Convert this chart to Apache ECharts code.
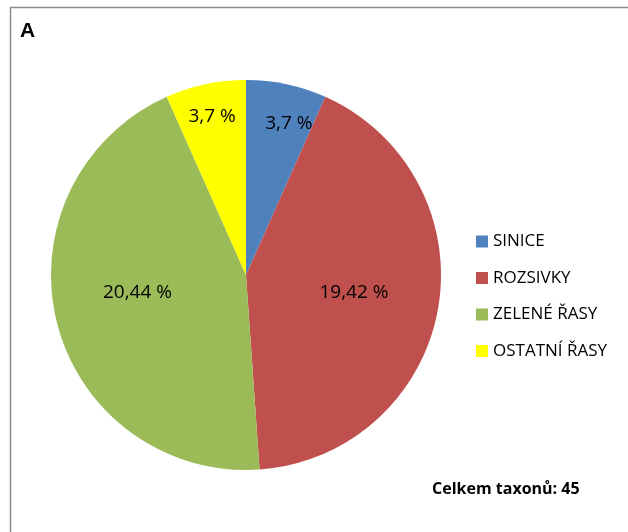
<!DOCTYPE html>
<html><head><meta charset="utf-8">
<script src="https://cdn.jsdelivr.net/npm/echarts@6/dist/echarts.min.js"></script>
<style>html,body{margin:0;padding:0;background:#fff}#c{width:628px;height:532px}</style>
</head><body><div id="c"></div>
<script>
const categories = ['SINICE', 'ROZSIVKY', 'ZELENÉ ŘASY', 'OSTATNÍ ŘASY'];
// number of taxa per group (slice sizes, total 45)
const taxa = [3, 19, 20, 3];
// percentage labels as printed in the chart
const percentLabels = [3.7, 19.42, 20.44, 3.7];
const colors = ['#4F81BD', '#C0504D', '#9BBB59', '#FFFF00'];
const labelOffsets = [[22, -53], [9, 0], [-11, -7], [-13, -60]];
const chart = echarts.init(document.getElementById('c'), null, {renderer: 'canvas'});
const font = '"Open Sans", "Noto Sans", sans-serif';
chart.setOption({
  animation: false,
  backgroundColor: '#fff',
  graphic: [
    {type: 'rect', shape: {x: 10.5, y: 7.5, width: 700, height: 600}, style: {fill: 'none', stroke: '#8c8c8c', lineWidth: 1.5}},
    {type: 'text', left: 20, top: 21, style: {text: 'A', font: 'bold 21px "Liberation Sans", Arial, sans-serif', fill: '#000'}},
    {type: 'text', left: 432, top: 481, style: {text: 'Celkem taxonů: 45', font: 'bold 16px "Open Sans", sans-serif', fill: '#000'}}
  ],
  legend: {
    orient: 'vertical', left: 471, top: 228,
    itemWidth: 12, itemHeight: 12, itemGap: 19.5,
    icon: 'rect',
    textStyle: {fontSize: 17, fontFamily: font, color: '#000'},
    data: categories
  },
  series: [{
    type: 'pie',
    center: [246, 275], radius: 195,
    startAngle: 90, clockwise: true,
    avoidLabelOverlap: false,
    label: {
      show: true, position: 'inside', fontSize: 19, fontFamily: font, color: '#000',
      formatter: p => String(percentLabels[p.dataIndex]).replace('.', ',') + ' %'
    },
    labelLine: {show: false},
    itemStyle: {borderWidth: 0},
    emphasis: {disabled: true},
    data: categories.map((n, i) => ({name: n, value: taxa[i], itemStyle: {color: colors[i]}, label: {offset: labelOffsets[i]}}))
  }]
});
</script></body></html>
